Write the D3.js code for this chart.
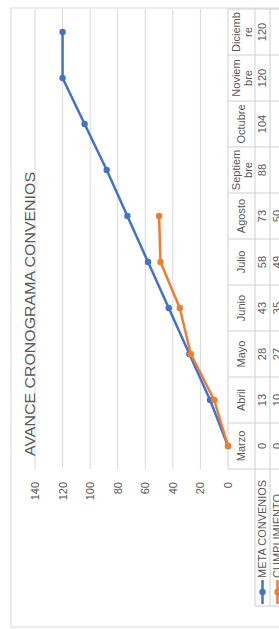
<!DOCTYPE html>
<html><head><meta charset="utf-8">
<script src="https://cdn.jsdelivr.net/npm/d3@7"></script>
<style>html,body{margin:0;padding:0;background:#fff;overflow:hidden}</style>
</head><body>
<svg id="c" width="279" height="629"></svg>
<script>
const title = "AVANCE CRONOGRAMA CONVENIOS";
const categories = ["Marzo","Abril","Mayo","Junio","Julio","Agosto","Septiembre","Octubre","Noviembre","Diciembre"];
const headerLabels = [["Marzo"],["Abril"],["Mayo"],["Junio"],["Julio"],["Agosto"],["Septiem","bre"],["Octubre"],["Noviem","bre"],["Diciemb","re"]];
const seriesNames = ["META CONVENIOS","CUMPLIMIENTO"];
const meta = [0,13,28,43,58,73,88,104,120,120];
const cumplimiento = [0,10,27,35,49,50,null,null,null,null];
const yTicks = [0,20,40,60,80,100,120,140];
const colors = ["#4472C4","#ED7D31"];

const svg = d3.select("#c");
// chart drawn in its own frame, rotated -90deg into the picture
const W = 619, H = 300;
const g = svg.append("g").attr("transform","translate(11,627) rotate(-90)");
const textCol = "#595959", gridCol = "#d9d9d9", tblCol = "#cfcfcf";
const font = "'Liberation Sans', Arial, sans-serif";

g.append("rect").attr("x",0).attr("y",0).attr("width",W).attr("height",H)
  .attr("fill","#fff").attr("stroke",gridCol).attr("stroke-width",1);

const x = d3.scaleBand().domain(categories).range([158,618]);
const y = d3.scaleLinear().domain([0,140]).range([217,24]);

// gridlines
g.append("g").selectAll("line").data(yTicks.filter(t=>t>0)).join("line")
  .attr("x1",158).attr("x2",618).attr("y1",d=>y(d)).attr("y2",d=>y(d))
  .attr("stroke",gridCol).attr("stroke-width",1);

// value axis
const ax = g.append("g").attr("transform","translate(158,0)")
  .call(d3.axisLeft(y).tickValues(yTicks).tickSize(0).tickPadding(13));
ax.select(".domain").remove();
ax.selectAll("text").attr("fill",textCol).attr("font-size",11).attr("font-family",font);

// title
g.append("text").attr("x",313).attr("y",24).attr("text-anchor","middle")
  .attr("font-family",font).attr("font-size",15).attr("fill",textCol)
  .attr("textLength",284).attr("lengthAdjust","spacingAndGlyphs").text(title);

// data table
const tTop = 217, r1 = 244, r2 = 259, r3 = 274, legL = 21;
const tbl = g.append("g").attr("stroke",tblCol).attr("stroke-width",1).attr("fill","none");
tbl.append("line").attr("x1",158).attr("x2",618).attr("y1",tTop).attr("y2",tTop);
[r1,r2,r3].forEach(v=>tbl.append("line").attr("x1",legL).attr("x2",618).attr("y1",v).attr("y2",v));
categories.forEach((c,i)=>{
  tbl.append("line").attr("x1",x(c)).attr("x2",x(c)).attr("y1",tTop).attr("y2",r3);
});
tbl.append("line").attr("x1",618).attr("x2",618).attr("y1",tTop).attr("y2",r3);
tbl.append("line").attr("x1",legL).attr("x2",legL).attr("y1",r1).attr("y2",r3);

// header labels
const hdr = g.append("g").attr("font-family",font).attr("font-size",11).attr("fill",textCol).attr("text-anchor","middle");
headerLabels.forEach((lines,i)=>{
  const cx = x(categories[i]) + x.bandwidth()/2;
  const t = hdr.append("text").attr("x",cx);
  if(lines.length===1){
    t.attr("y",(tTop+r1)/2).attr("dy","0.35em").text(lines[0]);
  } else {
    t.append("tspan").attr("x",cx).attr("y",tTop+8).attr("dy","0.35em").text(lines[0]);
    t.append("tspan").attr("x",cx).attr("y",tTop+20.5).attr("dy","0.35em").text(lines[1]);
  }
});

// table values
const rowsData = [meta,cumplimiento];
const rowCenters = [(r1+r2)/2,(r2+r3)/2];
rowsData.forEach((arr,ri)=>{
  g.append("g").selectAll("text").data(arr.map((v,i)=>({v,c:categories[i]})).filter(d=>d.v!==null))
    .join("text").attr("x",d=>x(d.c)+x.bandwidth()/2).attr("y",rowCenters[ri]).attr("dy","0.35em")
    .attr("text-anchor","middle").attr("font-family",font).attr("font-size",11).attr("fill",textCol)
    .text(d=>d.v);
  // legend key + name
  const lk = g.append("g");
  lk.append("line").attr("x1",legL+2).attr("x2",legL+26).attr("y1",rowCenters[ri]).attr("y2",rowCenters[ri])
    .attr("stroke",colors[ri]).attr("stroke-width",2.5);
  lk.append("circle").attr("cx",legL+14).attr("cy",rowCenters[ri]).attr("r",3.2).attr("fill",colors[ri]);
  lk.append("text").attr("x",legL+28).attr("y",rowCenters[ri]).attr("dy","0.35em")
    .attr("font-family",font).attr("font-size",11).attr("fill",textCol).text(seriesNames[ri]);
});

// series lines
rowsData.forEach((arr,ri)=>{
  const pts = arr.map((v,i)=>({v,c:categories[i]})).filter(d=>d.v!==null);
  const line = d3.line().x(d=>x(d.c)+x.bandwidth()/2).y(d=>y(d.v));
  g.append("path").datum(pts).attr("d",line).attr("fill","none")
    .attr("stroke",colors[ri]).attr("stroke-width",2.5).attr("stroke-linejoin","round");
  g.append("g").selectAll("circle").data(pts).join("circle")
    .attr("cx",d=>x(d.c)+x.bandwidth()/2).attr("cy",d=>y(d.v)).attr("r",3.2).attr("fill",colors[ri]);
});
</script>
</body></html>
